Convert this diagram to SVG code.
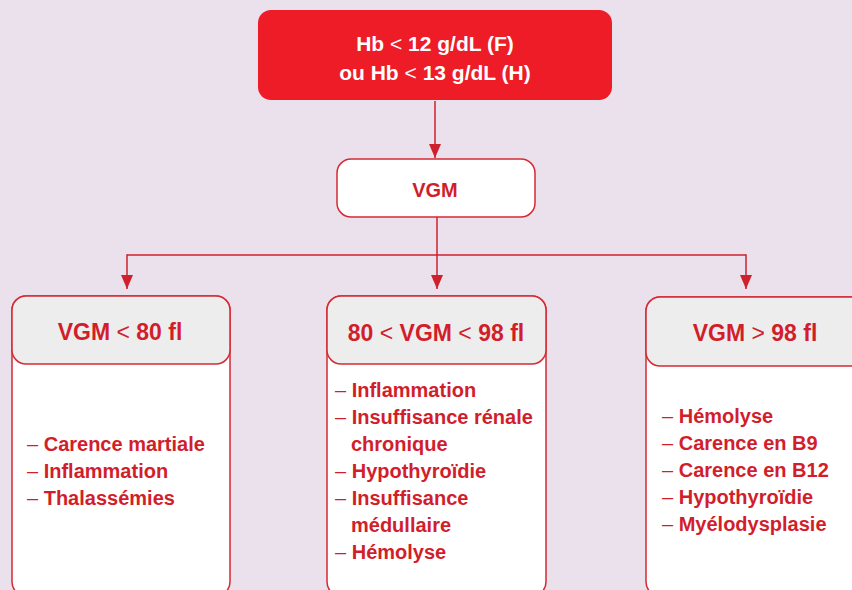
<svg xmlns="http://www.w3.org/2000/svg" width="852" height="590" viewBox="0 0 852 590">
<defs>
<marker id="ahd" markerWidth="14" markerHeight="12" refX="14" refY="6" orient="auto" markerUnits="userSpaceOnUse" viewBox="0 0 14 12">
<path d="M0,0 L14,6 L0,12 Z" fill="#D0202C"/>
</marker>
</defs>
<style>
.bg{fill:#EBE1EC}
.conn{stroke:#D0202C;stroke-width:1.5;fill:none}
.box{fill:#FFFFFF;stroke:#D52A33;stroke-width:1.5}
.hdr{fill:#EDEDED;stroke:#D52A33;stroke-width:1.5}
.t{font-family:"Liberation Sans",Arial,sans-serif;font-weight:bold;fill:#D21E2B}
.w{font-family:"Liberation Sans",Arial,sans-serif;font-weight:bold;fill:#FFFFFF}
.lt{font-weight:normal}
.h{font-size:23px}
.li{font-size:20px}
</style>
<rect class="bg" x="0" y="0" width="852" height="590"/>

<g id="connectors">
<line class="conn" x1="435" y1="101" x2="435" y2="158" marker-end="url(#ahd)"/>
<line class="conn" x1="437" y1="217" x2="437" y2="255"/>
<line class="conn" x1="127" y1="255" x2="746" y2="255"/>
<line class="conn" x1="127" y1="254.25" x2="127" y2="289" marker-end="url(#ahd)"/>
<line class="conn" x1="437" y1="254.25" x2="437" y2="289" marker-end="url(#ahd)"/>
<line class="conn" x1="746" y1="254.25" x2="746" y2="289" marker-end="url(#ahd)"/>
</g>

<g id="node-hb">
<rect x="258" y="10" width="354" height="90" rx="13" fill="#EE1C27"/>
<text class="w" x="435" y="51" text-anchor="middle" font-size="21">Hb <tspan class="lt">&lt;</tspan> 12 g/dL (F)</text>
<text class="w" x="435" y="80" text-anchor="middle" font-size="21">ou Hb <tspan class="lt">&lt;</tspan> 13 g/dL (H)</text>
</g>

<g id="node-vgm">
<rect class="box" x="337" y="159" width="198" height="58" rx="14"/>
<text class="t" x="435" y="197" text-anchor="middle" font-size="20">VGM</text>
</g>

<g id="node-micro">
<rect class="box" x="12" y="296" width="218" height="300" rx="14"/>
<rect class="hdr" x="12" y="296" width="218" height="68" rx="14"/>
<text class="t h" x="120" y="340" text-anchor="middle">VGM <tspan class="lt">&lt;</tspan> 80 fl</text>
<text class="t li" x="27" y="451"><tspan class="lt">–</tspan> Carence martiale</text>
<text class="t li" x="27" y="478"><tspan class="lt">–</tspan> Inflammation</text>
<text class="t li" x="27" y="505"><tspan class="lt">–</tspan> Thalassémies</text>
</g>

<g id="node-normo">
<rect class="box" x="327" y="296" width="219" height="300" rx="14"/>
<rect class="hdr" x="327" y="296" width="219" height="68" rx="14"/>
<text class="t h" x="436" y="341" text-anchor="middle">80 <tspan class="lt">&lt;</tspan> VGM <tspan class="lt">&lt;</tspan> 98 fl</text>
<text class="t li" x="335" y="397"><tspan class="lt">–</tspan> Inflammation</text>
<text class="t li" x="335" y="424"><tspan class="lt">–</tspan> Insuffisance rénale</text>
<text class="t li" x="351" y="451">chronique</text>
<text class="t li" x="335" y="478"><tspan class="lt">–</tspan> Hypothyroïdie</text>
<text class="t li" x="335" y="505"><tspan class="lt">–</tspan> Insuffisance</text>
<text class="t li" x="351" y="532">médullaire</text>
<text class="t li" x="335" y="559"><tspan class="lt">–</tspan> Hémolyse</text>
</g>

<g id="node-macro">
<rect class="box" x="646" y="297" width="220" height="299" rx="14"/>
<rect class="hdr" x="646" y="297" width="220" height="69" rx="14"/>
<text class="t h" x="755" y="341" text-anchor="middle">VGM <tspan class="lt">&gt;</tspan> 98 fl</text>
<text class="t li" x="662" y="423"><tspan class="lt">–</tspan> Hémolyse</text>
<text class="t li" x="662" y="450"><tspan class="lt">–</tspan> Carence en B9</text>
<text class="t li" x="662" y="477"><tspan class="lt">–</tspan> Carence en B12</text>
<text class="t li" x="662" y="504"><tspan class="lt">–</tspan> Hypothyroïdie</text>
<text class="t li" x="662" y="531"><tspan class="lt">–</tspan> Myélodysplasie</text>
</g>
</svg>
